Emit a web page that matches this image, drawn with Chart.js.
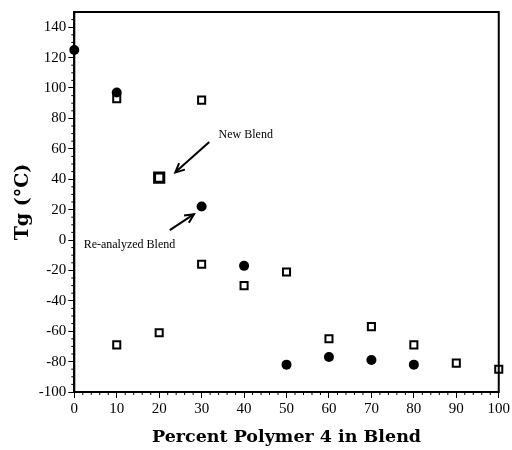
<!DOCTYPE html>
<html>
<head>
<meta charset="utf-8">
<script src="https://cdn.jsdelivr.net/npm/chart.js@4/dist/chart.umd.min.js"></script>
<style>
  html, body { margin: 0; padding: 0; background: #fff; }
  #wrap { width: 512px; height: 450px; position: relative; }
</style>
</head>
<body>
<div id="wrap"><canvas id="tgChart"></canvas></div>
<script>
// Tg values
const circleX = [0, 10, 30, 40, 50, 60, 70, 80];
const circleY = [125, 97, 22, -17, -82, -77, -79, -82];

const squareX = [10, 30, 10, 20, 30, 40, 50, 60, 70, 80, 90, 100];
const squareY = [93, 92, -69, -61, -16, -30, -21, -65, -57, -69, -81, -85];

const newBlendX = [20];
const newBlendY = [41];

const xTicks = [0, 10, 20, 30, 40, 50, 60, 70, 80, 90, 100];
const yTicks = [-100, -80, -60, -40, -20, 0, 20, 40, 60, 80, 100, 120, 140];

const serif = '"Liberation Serif", "DejaVu Serif", serif';
const boldSerif = '"DejaVu Serif", "Liberation Serif", serif';

const toPoints = (xs, ys) => xs.map((x, i) => ({ x: x, y: ys[i] }));

// notes + arrows, placed in data units
const notes = [
  { text: 'New Blend', tx: 34, ty: 69, from: [31.8, 64.5], to: [23.8, 44.5] },
  { text: 'Re-analyzed Blend', tx: 2.2, ty: -3, from: [22.5, 6.5], to: [28.2, 17] }
];

const frameAndNotes = {
  id: 'frameAndNotes',
  afterDraw(chart) {
    const { ctx, chartArea: a, scales } = chart;
    const xs = scales.x, ys = scales.y;
    ctx.save();
    ctx.strokeStyle = '#000';
    ctx.lineWidth = 2;
    ctx.strokeRect(a.left, a.top, a.right - a.left, a.bottom - a.top);

    // minor ticks
    ctx.lineWidth = 1;
    ctx.beginPath();
    for (let v = 2; v < 100; v += 2) {
      if (v % 10 === 0) continue;
      const px = xs.getPixelForValue(v);
      ctx.moveTo(px, a.bottom);
      ctx.lineTo(px, a.bottom + 3);
    }
    for (let v = -95; v < 150; v += 5) {
      if (v % 20 === 0) continue;
      const py = ys.getPixelForValue(v);
      ctx.moveTo(a.left, py);
      ctx.lineTo(a.left - 3, py);
    }
    ctx.stroke();

    ctx.fillStyle = '#000';
    ctx.font = '12px ' + serif;
    ctx.textBaseline = 'middle';
    notes.forEach(n => {
      ctx.fillText(n.text, xs.getPixelForValue(n.tx), ys.getPixelForValue(n.ty));
      const x1 = xs.getPixelForValue(n.from[0]), y1 = ys.getPixelForValue(n.from[1]);
      const x2 = xs.getPixelForValue(n.to[0]), y2 = ys.getPixelForValue(n.to[1]);
      ctx.lineWidth = 2;
      ctx.beginPath();
      ctx.moveTo(x1, y1);
      ctx.lineTo(x2, y2);
      ctx.stroke();
      const ang = Math.atan2(y2 - y1, x2 - x1);
      const len = 10;
      ctx.beginPath();
      ctx.moveTo(x2 - len * Math.cos(ang - 0.45), y2 - len * Math.sin(ang - 0.45));
      ctx.lineTo(x2, y2);
      ctx.lineTo(x2 - len * Math.cos(ang + 0.45), y2 - len * Math.sin(ang + 0.45));
      ctx.stroke();
    });
    ctx.restore();
  }
};

new Chart(document.getElementById('tgChart').getContext('2d'), {
  type: 'scatter',
  data: {
    datasets: [
      {
        label: 'Tg (filled)',
        data: toPoints(circleX, circleY),
        pointStyle: 'circle',
        pointRadius: 5,
        backgroundColor: '#000',
        borderColor: '#000',
        borderWidth: 0
      },
      {
        label: 'Tg (open)',
        data: toPoints(squareX, squareY),
        pointStyle: 'rect',
        pointRadius: 5,
        backgroundColor: '#fff',
        borderColor: '#000',
        borderWidth: 2
      },
      {
        label: 'New Blend',
        data: toPoints(newBlendX, newBlendY),
        pointStyle: 'rect',
        pointRadius: 6.5,
        backgroundColor: '#fff',
        borderColor: '#000',
        borderWidth: 3
      }
    ]
  },
  options: {
    responsive: true,
    maintainAspectRatio: false,
    animation: false,
    clip: false,
    layout: { padding: { top: 12, right: 12, left: 12, bottom: 0 } },
    plugins: {
      legend: { display: false },
      tooltip: { enabled: false }
    },
    scales: {
      x: {
        type: 'linear',
        min: 0,
        max: 100,
        afterBuildTicks: s => { s.ticks = xTicks.map(v => ({ value: v })); },
        ticks: { color: '#000', font: { family: serif, size: 15 }, padding: 2, maxRotation: 0 },
        grid: { drawOnChartArea: false, drawTicks: true, tickLength: 6, color: '#000' },
        border: { color: '#000', width: 2 },
        title: {
          display: true,
          text: 'Percent Polymer 4 in Blend',
          color: '#000',
          font: { family: boldSerif, size: 17.5, weight: 'bold' },
          padding: { top: 7, bottom: 2 }
        }
      },
      y: {
        type: 'linear',
        min: -100,
        max: 150,
        afterBuildTicks: s => { s.ticks = yTicks.map(v => ({ value: v })); },
        ticks: { color: '#000', font: { family: serif, size: 15 }, padding: 2 },
        grid: { drawOnChartArea: false, drawTicks: true, tickLength: 6, color: '#000' },
        border: { color: '#000', width: 2 },
        title: {
          display: true,
          text: 'Tg (°C)',
          color: '#000',
          font: { family: boldSerif, size: 19, weight: 'bold' },
          padding: { top: 0, bottom: 2 }
        }
      }
    }
  },
  plugins: [frameAndNotes]
});
</script>
</body>
</html>
